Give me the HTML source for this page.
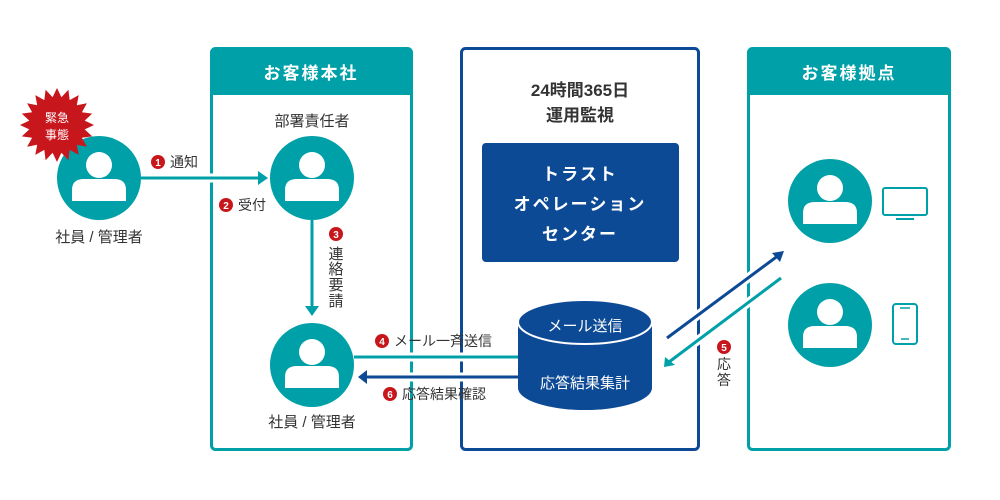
<!DOCTYPE html>
<html><head><meta charset="utf-8">
<style>
html,body{margin:0;padding:0;background:#fff;}
svg{display:block;}
text{font-family:"Liberation Sans","Noto Sans CJK JP",sans-serif;}
</style></head><body>
<svg id="s" width="1000" height="500" viewBox="0 0 1000 500" xmlns="http://www.w3.org/2000/svg">
<defs>
<g id="person">
<circle cx="0" cy="-13" r="13" fill="#fff"/>
<path d="M-27 23 V12 Q-27 1 -15 1 H15 Q27 1 27 12 V23 Z" fill="#fff"/>
</g>
<g id="badge"><circle r="7" fill="#c8161d"/></g>
</defs>
<!-- boxes -->
<rect x="211.5" y="48.5" width="200" height="401" rx="4" fill="none" stroke="#00a0a8" stroke-width="3"/>
<path d="M211 52 Q211 48 215 48 H408 Q412 48 412 52 V95 H211 Z" fill="#00a0a8"/>
<text x="311" y="79" font-size="17" font-weight="bold" fill="#fff" text-anchor="middle" letter-spacing="2">お客様本社</text>
<rect x="461.5" y="48.5" width="237" height="401" rx="4" fill="none" stroke="#0d4a96" stroke-width="3"/>
<rect x="748.5" y="48.5" width="201" height="401" rx="4" fill="none" stroke="#00a0a8" stroke-width="3"/>
<path d="M748 52 Q748 48 752 48 H946 Q950 48 950 52 V95 H748 Z" fill="#00a0a8"/>
<text x="849" y="79" font-size="17" font-weight="bold" fill="#fff" text-anchor="middle" letter-spacing="2">お客様拠点</text>
<!-- center -->
<text x="580" y="96" font-size="17" font-weight="bold" fill="#333" text-anchor="middle">24時間365日</text>
<text x="580" y="121" font-size="17" font-weight="bold" fill="#333" text-anchor="middle">運用監視</text>
<rect x="482" y="143" width="197" height="119" rx="4" fill="#0d4a96"/>
<text x="580" y="180" font-size="17" font-weight="bold" fill="#fff" text-anchor="middle" letter-spacing="2">トラスト</text>
<text x="580" y="210" font-size="17" font-weight="bold" fill="#fff" text-anchor="middle" letter-spacing="2">オペレーション</text>
<text x="580" y="240" font-size="17" font-weight="bold" fill="#fff" text-anchor="middle" letter-spacing="2">センター</text>
<!-- connectors with white halos -->
<line x1="141" y1="178" x2="262" y2="178" stroke="#fff" stroke-width="9"/>
<line x1="141" y1="178" x2="262" y2="178" stroke="#00a0a8" stroke-width="3"/>
<path d="M258 171 L268 178 L258 185 Z" fill="#00a0a8"/>
<line x1="312" y1="220" x2="312" y2="310" stroke="#00a0a8" stroke-width="3"/>
<path d="M305 306 L312 316 L319 306 Z" fill="#00a0a8"/>
<line x1="354" y1="357" x2="520" y2="357" stroke="#fff" stroke-width="9"/>
<line x1="354" y1="357" x2="520" y2="357" stroke="#00a0a8" stroke-width="3"/>
<line x1="365" y1="377" x2="520" y2="377" stroke="#fff" stroke-width="9"/>
<line x1="365" y1="377" x2="520" y2="377" stroke="#0d4a96" stroke-width="3"/>
<path d="M367 370 L358 377 L367 384 Z" fill="#0d4a96"/>
<line x1="667" y1="338" x2="779" y2="255" stroke="#fff" stroke-width="9"/>
<line x1="667" y1="338" x2="779" y2="255" stroke="#0d4a96" stroke-width="3"/>
<path d="M772 253 L784 251 L780 262 Z" fill="#0d4a96"/>
<line x1="781" y1="278" x2="669" y2="362" stroke="#fff" stroke-width="9"/>
<line x1="781" y1="278" x2="669" y2="362" stroke="#00a0a8" stroke-width="3"/>
<path d="M665 357 L664 367 L675 365 Z" fill="#00a0a8"/>
<!-- cylinder -->
<path d="M518 322 V388 A67 22 0 0 0 652 388 V322 Z" fill="#0d4a96"/>
<ellipse cx="585" cy="322" rx="67" ry="22" fill="#0d4a96" stroke="#fff" stroke-width="2"/>
<text x="585" y="331" font-size="15" fill="#fff" text-anchor="middle">メール送信</text>
<text x="585" y="388" font-size="15" fill="#fff" text-anchor="middle">応答結果集計</text>
<!-- people -->
<circle cx="99" cy="178" r="42" fill="#00a0a8"/><use href="#person" x="99" y="178"/>
<circle cx="312" cy="178" r="42" fill="#00a0a8"/><use href="#person" x="312" y="178"/>
<circle cx="312" cy="365" r="42" fill="#00a0a8"/><use href="#person" x="312" y="365"/>
<circle cx="830" cy="201" r="42" fill="#00a0a8"/><use href="#person" x="830" y="201"/>
<circle cx="830" cy="325" r="42" fill="#00a0a8"/><use href="#person" x="830" y="325"/>
<!-- devices -->
<rect x="883" y="188" width="44" height="27" rx="2" fill="none" stroke="#00a0a8" stroke-width="2"/>
<line x1="896" y1="219" x2="914" y2="219" stroke="#00a0a8" stroke-width="2"/>
<rect x="893" y="304" width="24" height="40" rx="3" fill="none" stroke="#00a0a8" stroke-width="2"/>
<line x1="900" y1="308" x2="910" y2="308" stroke="#00a0a8" stroke-width="1.5"/>
<line x1="901" y1="339" x2="909" y2="339" stroke="#00a0a8" stroke-width="1.5"/>
<!-- starburst -->
<polygon id="star" fill="#c8161d"/>
<text x="57" y="122" font-size="12" fill="#fff" text-anchor="middle">緊急</text>
<text x="57" y="139" font-size="12" fill="#fff" text-anchor="middle">事態</text>
<!-- labels -->
<text x="99" y="242" font-size="15" fill="#333" text-anchor="middle">社員 / 管理者</text>
<text x="312" y="126" font-size="15" fill="#333" text-anchor="middle">部署責任者</text>
<text x="312" y="427" font-size="15" fill="#333" text-anchor="middle">社員 / 管理者</text>
<use href="#badge" x="158" y="162"/><text x="158" y="166" font-size="10" font-weight="bold" fill="#fff" text-anchor="middle">1</text>
<text x="170" y="167" font-size="14" fill="#333">通知</text>
<use href="#badge" x="226" y="205"/><text x="226" y="209" font-size="10" font-weight="bold" fill="#fff" text-anchor="middle">2</text>
<text x="238" y="210" font-size="14" fill="#333">受付</text>
<use href="#badge" x="336" y="234"/><text x="336" y="238" font-size="10" font-weight="bold" fill="#fff" text-anchor="middle">3</text>
<text x="336" y="259" font-size="15" fill="#333" text-anchor="middle">連</text>
<text x="336" y="274" font-size="15" fill="#333" text-anchor="middle">絡</text>
<text x="336" y="290" font-size="15" fill="#333" text-anchor="middle">要</text>
<text x="336" y="306" font-size="15" fill="#333" text-anchor="middle">請</text>
<use href="#badge" x="382" y="341"/><text x="382" y="345" font-size="10" font-weight="bold" fill="#fff" text-anchor="middle">4</text>
<text x="394" y="346" font-size="14" fill="#333">メール一斉送信</text>
<use href="#badge" x="390" y="394"/><text x="390" y="398" font-size="10" font-weight="bold" fill="#fff" text-anchor="middle">6</text>
<text x="402" y="399" font-size="14" fill="#333">応答結果確認</text>
<use href="#badge" x="724" y="347"/><text x="724" y="351" font-size="10" font-weight="bold" fill="#fff" text-anchor="middle">5</text>
<text x="724" y="369" font-size="14" fill="#333" text-anchor="middle">応</text>
<text x="724" y="385" font-size="14" fill="#333" text-anchor="middle">答</text>
</svg>
<script>
var p=[],cx=57,cy=125,n=20;
for(var i=0;i<n*2;i++){var a=Math.PI*i/n-Math.PI/2,r=i%2?28:37;p.push((cx+r*Math.cos(a)).toFixed(1)+','+(cy+r*Math.sin(a)).toFixed(1));}
document.getElementById('star').setAttribute('points',p.join(' '));
</script>
</body></html>
